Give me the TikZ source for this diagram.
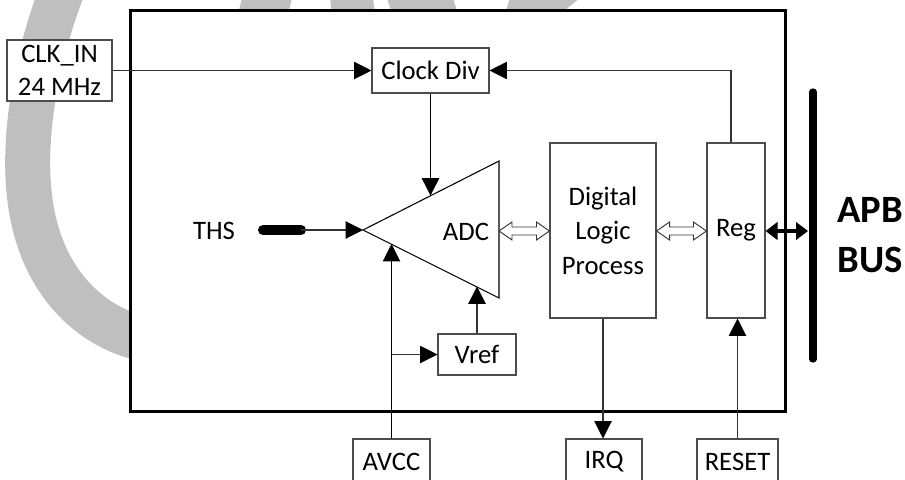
\documentclass[tikz,border=0pt]{standalone}
\usepackage{fontspec}
\setmainfont{Carlito}
\usetikzlibrary{arrows.meta,calc}
\newdimen\pxu
\pxu=0.75pt
\begin{document}
\begin{tikzpicture}[x=0.75pt,y=-0.75pt,
  box/.style={draw=black!70,line width=0.8pt,fill=white,inner sep=0pt,
    font=\fontsize{20}{25}\selectfont,align=center},
  lbl/.style={font=\fontsize{20}{25}\selectfont,inner sep=0pt},
  wire/.style={draw=black!80,line width=0.8pt},
  arr/.style={wire,-{Triangle[length=13pt,width=13pt,color=black]}},
  hollow/.style={draw=black!80,line width=0.7pt,fill=white,line join=miter},
  wm/.style={fill=black!25,draw=none}
]
\useasboundingbox (0,0) rectangle (905,479);
% watermark
\draw[black!25,line width=33.75pt] (63,-12) .. controls (35,60) and (22,140) .. (30,200)
   .. controls (40,280) and (90,330) .. (150,340);
\fill[wm] (242,-2) -- (292,-2) -- (288,14) -- (238,14) -- cycle;
\fill[wm] (330,-2) -- (373,-2) -- (375,14) -- (332,14) -- cycle;
\fill[wm] (387,-2) -- (453,-2) -- (458,14) -- (392,14) -- cycle;
\fill[wm] (510,-2) -- (580,-2) -- (560,14) -- (505,14) -- cycle;
% chip outline
\node[draw,line width=2.25pt,fill=white,minimum width=655*\pxu,minimum height=401*\pxu,inner sep=0pt] (chip) at (457.5,210.5) {};
% blocks
\node[box,minimum width=105*\pxu,minimum height=61*\pxu] (clk) at (59.5,70.5) {CLK\_IN\\24 MHz};
\node[box,minimum width=117*\pxu,minimum height=45*\pxu] (div) at (430.5,70.5) {Clock Div};
\node[box,minimum width=106*\pxu,minimum height=175*\pxu,font=\fontsize{20}{26}\selectfont] (dlp) at (603,230.5) {Digital\\Logic\\Process};
\node[box,minimum width=58*\pxu,minimum height=175*\pxu] (reg) at (736,230.5) {Reg};
\node[box,minimum width=78*\pxu,minimum height=41*\pxu] (vref) at (477,354.5) {Vref};
\node[box,minimum width=77*\pxu,minimum height=46*\pxu] (avcc) at (391.5,462) {AVCC};
\node[box,minimum width=76*\pxu,minimum height=46*\pxu] (irq) at (604,462) {IRQ};
\node[box,minimum width=81*\pxu,minimum height=46*\pxu] (reset) at (737.5,462) {RESET};
% ADC triangle
\coordinate (adcL) at (363,230);
\coordinate (adcT) at (499,161);
\coordinate (adcB) at (499,298);
\draw[black,line width=0.8pt,line join=miter] (adcL) -- (adcT) -- (adcB) -- cycle;
\node[lbl] (adc) at (466,232) {ADC};
\coordinate (adcTopMid) at ($(adcL)!0.5!(adcT)$);
\coordinate (adcLow1) at ($(adcL)!0.206!(adcB)$);
\coordinate (adcLow2) at ($(adcL)!0.83!(adcB)$);
\coordinate (adcOut) at (499,231);
% THS
\node[lbl] (ths) at (214,231) {THS};
\coordinate (thsA) at (263,230);
\coordinate (thsB) at (301,230);
\draw[black,line width=7.5pt,line cap=round] (thsA) -- (thsB);
\draw[arr] (thsB) -- (adcL);
% clock
\draw[arr] (clk.east) -- (div.west);
\draw[arr,draw=black,line width=1.1pt] (div.south) -- (div.south |- adcTopMid);
\draw[arr] ($(reg.north)+(-5,0)$) |- (div.east);
% analog supply
\draw[arr,draw=black] (avcc.north) -- (avcc.north |- adcLow1);
\draw[arr] (avcc.north |- vref.west) -- (vref.west);
\draw[arr] (vref.north) -- (vref.north |- adcLow2);
% outputs
\draw[arr] (dlp.south) -- (dlp.south |- irq.north);
\draw[arr] (reset.north) -- (reset.north |- reg.south);
% hollow double arrows
\newcommand\hollowarr[2]{%
  \draw[hollow] (#1) -- ++(13,-9) -- ++(0,5) -- ($(#2)+(-13,-4)$) -- ++(0,-5) -- (#2)
    -- ++(-13,9) -- ++(0,-5) -- ($(#1)+(13,4)$) -- ++(0,5) -- cycle;}
\hollowarr{adcOut}{adcOut -| dlp.west}
\hollowarr{adcOut -| dlp.east}{adcOut -| reg.west}
% APB bus
\coordinate (busT) at (813,92);
\coordinate (busB) at (813,359);
\draw[black,line width=5.5pt,line cap=round] (busT) -- (busB);
\draw[black,line width=2.4pt,{Triangle[length=9pt,width=13pt]}-{Triangle[length=9pt,width=13pt]}]
  (adcOut -| reg.east) -- ($(adcOut -| busT)+(-5,0)$);
\node[font=\fontsize{29}{38}\selectfont\bfseries,inner sep=0pt] (apb) at (870,210) {APB};
\node[font=\fontsize{29}{38}\selectfont\bfseries,inner sep=0pt] (bus) at (870,260) {BUS};
\end{tikzpicture}
\end{document}
